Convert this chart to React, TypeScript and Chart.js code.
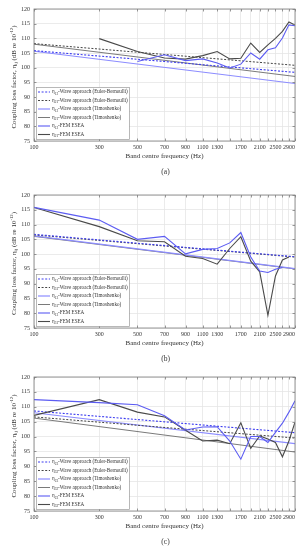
import React, { useEffect, useRef } from "react";
import { Chart, registerables } from "chart.js";

Chart.register(...registerables);

// ---------- data ----------
const FREQS = [100, 300, 500, 700, 900, 1100, 1300, 1500, 1700, 1900, 2100, 2300, 2500, 2700, 2900, 3100];
const WAVE_FREQS = [100, 3100];
const LABELLED_FREQS = [100, 300, 500, 700, 900, 1100, 1300, 1700, 2100, 2500, 2900];
const GRID_FREQS = [100, 300, 500, 700, 900, 1100, 1300, 1500, 1700, 1900, 2100, 2300, 2500, 2700, 2900, 3100];
const AXIS_OFFSET = 100; // axis is logarithmic in (band centre + 100 Hz)
const Y_MIN = 75;
const Y_MAX = 120;
const Y_STEP = 5;

// (a)
const A_WAVE_EB_12 = [105.8, 98.4];
const A_WAVE_EB_21 = [108.2, 100.8];
const A_WAVE_TIM_12 = [105.6, 94.6];
const A_WAVE_TIM_21 = [108.0, 97.0];
const A_FEM_12 = [null, null, 102.1, 104.4, 102.4, 103.0, 101.6, 99.9, 101.2, 105.0, 102.9, 106.1, 106.8, 110.1, 114.6, 114.3];
const A_FEM_21 = [null, 109.9, 105.5, 103.3, 102.9, 104.1, 105.5, 103.0, 103.2, 108.4, 105.2, 107.8, 110.0, 112.4, 115.6, 114.5];

// (b)
const B_WAVE_EB_13 = [106.7, 99.1];
const B_WAVE_EB_31 = [106.5, 99.0];
const B_WAVE_TIM_13 = [106.2, 95.1];
const B_WAVE_TIM_31 = [106.0, 95.0];
const B_FEM_13 = [115.8, 111.5, 105.0, 106.0, 100.1, 101.6, 101.9, 103.8, 107.3, 99.0, 94.3, 93.8, 94.9, 95.5, null, null];
const B_FEM_31 = [115.8, 109.3, 104.5, 104.2, 99.3, 98.5, 96.6, 101.9, 105.9, 97.6, 94.0, 79.3, 92.6, 98.0, 99.0, null];

// (c)
const C_WAVE_EB_23 = [108.6, 101.3];
const C_WAVE_EB_32 = [106.6, 99.5];
const C_WAVE_TIM_23 = [108.0, 97.6];
const C_WAVE_TIM_32 = [106.2, 94.8];
const C_FEM_23 = [112.4, 111.4, 110.7, 107.0, 102.2, 103.2, 103.3, 98.5, 92.4, 100.0, 100.0, 98.0, 101.4, 104.5, 108.2, 112.0];
const C_FEM_32 = [107.1, 112.4, 108.2, 106.6, 102.1, 98.5, 98.8, 97.6, 104.6, 96.0, 100.2, 99.2, 98.0, 93.2, 98.5, 104.8];

const CAPTIONS = ["(a)", "(b)", "(c)"];
const SUBSCRIPTS = [["12", "21"], ["13", "31"], ["23", "32"]];
const LEGEND_SUFFIXES = [
  "-Wave approach (Euler-Bernoulli)",
  "-Wave approach (Euler-Bernoulli)",
  "-Wave approach (Timoshenko)",
  "-Wave approach (Timoshenko)",
  "-FEM ESEA",
  "-FEM ESEA",
];
const X_TITLE = "Band centre frequency (Hz)";

// ---------- styles ----------
const FONT = "'Liberation Serif', 'Times New Roman', serif";
const TEXT = "#333333";
const GRID = "#e6e6e6";
const STYLES = [
  { color: "#3c3cf0", width: 1.1, dash: [2, 1.6] },
  { color: "#444444", width: 1.0, dash: [2, 1.6] },
  { color: "#8c8cff", width: 1.2, dash: [] },
  { color: "#7a7a7a", width: 1.0, dash: [] },
  { color: "#5c5cf2", width: 1.1, dash: [] },
  { color: "#4a4a4a", width: 1.1, dash: [] },
];

type Seg = { t: string; s?: "sub" | "sup" };

function segFont(size: number, s?: string) {
  const sz = s ? size * 0.68 : size;
  return `${sz}px ${FONT}`;
}
function richWidth(ctx: CanvasRenderingContext2D, segs: Seg[], size: number) {
  let w = 0;
  for (const sg of segs) {
    ctx.font = segFont(size, sg.s);
    w += ctx.measureText(sg.t).width;
  }
  return w;
}
function drawRich(ctx: CanvasRenderingContext2D, segs: Seg[], x: number, y: number, size: number, align: "left" | "center") {
  let cx = align === "center" ? x - richWidth(ctx, segs, size) / 2 : x;
  ctx.textAlign = "left";
  ctx.textBaseline = "middle";
  ctx.fillStyle = TEXT;
  for (const sg of segs) {
    ctx.font = segFont(size, sg.s);
    const dy = sg.s === "sub" ? size * 0.32 : sg.s === "sup" ? -size * 0.38 : 0;
    ctx.fillText(sg.t, cx, y + dy);
    cx += ctx.measureText(sg.t).width;
  }
}

const PANELS = [
  {
    top: 0, height: 183, plotTop: 9, plotBottom: 141,
    series: [[WAVE_FREQS, A_WAVE_EB_12], [WAVE_FREQS, A_WAVE_EB_21], [WAVE_FREQS, A_WAVE_TIM_12], [WAVE_FREQS, A_WAVE_TIM_21], [FREQS, A_FEM_12], [FREQS, A_FEM_21]],
  },
  {
    top: 183, height: 183, plotTop: 12, plotBottom: 145,
    series: [[WAVE_FREQS, B_WAVE_EB_13], [WAVE_FREQS, B_WAVE_EB_31], [WAVE_FREQS, B_WAVE_TIM_13], [WAVE_FREQS, B_WAVE_TIM_31], [FREQS, B_FEM_13], [FREQS, B_FEM_31]],
  },
  {
    top: 366, height: 184, plotTop: 11, plotBottom: 145,
    series: [[WAVE_FREQS, C_WAVE_EB_23], [WAVE_FREQS, C_WAVE_EB_32], [WAVE_FREQS, C_WAVE_TIM_23], [WAVE_FREQS, C_WAVE_TIM_32], [FREQS, C_FEM_23], [FREQS, C_FEM_32]],
  },
];

function Panel({ idx }: { idx: number }) {
  const ref = useRef<HTMLCanvasElement | null>(null);
  const p = PANELS[idx];
  useEffect(() => {
    const canvas = ref.current;
    if (!canvas) return;
    const subs = SUBSCRIPTS[idx];
    const datasets = p.series.map(([xs, ys], i) => {
      const st = STYLES[i];
      const pts: { x: number; y: number }[] = [];
      (xs as number[]).forEach((f, k) => {
        const v = (ys as (number | null)[])[k];
        if (v !== null && v !== undefined) pts.push({ x: f + AXIS_OFFSET, y: v });
      });
      return {
        label: "η" + subs[i % 2] + LEGEND_SUFFIXES[i],
        data: pts,
        borderColor: st.color,
        backgroundColor: st.color,
        borderWidth: st.width,
        borderDash: st.dash,
        pointRadius: 0,
        tension: 0,
        fill: false,
        order: i >= 4 ? 0 : 1,
      };
    });

    const decor = {
      id: "decor",
      afterDatasetsDraw(chart: any) {
        const { ctx, chartArea: ca, scales } = chart;
        ctx.save();
        // box
        ctx.strokeStyle = "#7d7d7d";
        ctx.lineWidth = 0.8;
        ctx.setLineDash([]);
        ctx.strokeRect(ca.left, ca.top, ca.right - ca.left, ca.bottom - ca.top);
        // inner tick marks
        ctx.beginPath();
        for (const t of scales.x.ticks) {
          const px = Math.round(scales.x.getPixelForValue(t.value)) + 0.5;
          ctx.moveTo(px, ca.bottom); ctx.lineTo(px, ca.bottom - 2.5);
          ctx.moveTo(px, ca.top); ctx.lineTo(px, ca.top + 2.5);
        }
        for (const t of scales.y.ticks) {
          const py = Math.round(scales.y.getPixelForValue(t.value)) + 0.5;
          ctx.moveTo(ca.left, py); ctx.lineTo(ca.left + 2.5, py);
          ctx.moveTo(ca.right, py); ctx.lineTo(ca.right - 2.5, py);
        }
        ctx.stroke();
        // legend
        const lx = ca.left + 2;
        const rowH = 8.5;
        const lh = rowH * 6 + 1;
        const ly = ca.bottom - 2 - lh;
        const lw = 93;
        ctx.fillStyle = "#ffffff";
        ctx.fillRect(lx, ly, lw, lh);
        ctx.strokeStyle = "#9a9a9a";
        ctx.lineWidth = 0.7;
        ctx.strokeRect(lx + 0.5, ly + 0.5, lw, lh);
        datasets.forEach((ds, i) => {
          const yy = ly + 5 + i * rowH;
          ctx.strokeStyle = ds.borderColor;
          ctx.lineWidth = ds.borderWidth;
          ctx.setLineDash(ds.borderDash);
          ctx.beginPath();
          ctx.moveTo(lx + 2, yy);
          ctx.lineTo(lx + 14, yy);
          ctx.stroke();
          ctx.setLineDash([]);
          drawRich(ctx, [{ t: "η" }, { t: subs[i % 2], s: "sub" }, { t: LEGEND_SUFFIXES[i] }], lx + 16, yy, 5.1, "left");
        });
        ctx.restore();
      },
      afterDraw(chart: any) {
        const { ctx, chartArea: ca } = chart;
        ctx.save();
        const cx = (ca.left + ca.right) / 2;
        drawRich(ctx, [{ t: X_TITLE }], cx, ca.bottom + 15, 7, "center");
        drawRich(ctx, [{ t: CAPTIONS[idx] }], cx + 1, ca.bottom + 31, 7.5, "center");
        // y title
        ctx.translate(14, (ca.top + ca.bottom) / 2 + 2);
        ctx.rotate(-Math.PI / 2);
        drawRich(ctx, [{ t: "Coupling loss factor, η" }, { t: "ij", s: "sub" }, { t: " (dB re 10" }, { t: "-12", s: "sup" }, { t: ")" }], 0, 0, 7, "center");
        ctx.restore();
      },
    };

    const chart = new Chart(canvas, {
      type: "line",
      data: { datasets: datasets as any },
      options: {
        animation: false,
        responsive: false,
        devicePixelRatio: 1,
        layout: { padding: { top: p.plotTop, right: 13, left: 0, bottom: 0 } },
        plugins: { legend: { display: false }, tooltip: { enabled: false }, title: { display: false } },
        scales: {
          x: {
            type: "logarithmic",
            min: GRID_FREQS[0] + AXIS_OFFSET,
            max: GRID_FREQS[GRID_FREQS.length - 1] + AXIS_OFFSET,
            afterBuildTicks: (scale: any) => {
              scale.ticks = GRID_FREQS.map((f) => ({ value: f + AXIS_OFFSET }));
            },
            afterFit: (scale: any) => {
              scale.height = p.height - p.plotBottom;
            },
            ticks: {
              autoSkip: false,
              maxRotation: 0,
              minRotation: 0,
              padding: 2.5,
              color: TEXT,
              font: { family: FONT, size: 6 },
              callback: (v: any) => {
                const f = Number(v) - AXIS_OFFSET;
                return LABELLED_FREQS.includes(f) ? String(f) : "";
              },
            },
            grid: { color: GRID, lineWidth: 0.8, drawTicks: false },
            border: { display: false },
          },
          y: {
            type: "linear",
            min: Y_MIN,
            max: Y_MAX,
            afterFit: (scale: any) => {
              scale.width = 34;
            },
            ticks: {
              stepSize: Y_STEP,
              padding: 4,
              color: TEXT,
              font: { family: FONT, size: 6 },
            },
            grid: { color: GRID, lineWidth: 0.8, drawTicks: false },
            border: { display: false },
          },
        },
      },
      plugins: [decor],
    } as any);
    return () => chart.destroy();
  }, []);
  return (
    <div style={{ position: "absolute", left: 0, top: p.top, width: 308, height: p.height }}>
      <canvas ref={ref} width={308} height={p.height} style={{ display: "block", width: 308, height: p.height }} />
    </div>
  );
}

export default function App() {
  return (
    <div style={{ position: "absolute", left: 0, top: 0, width: 308, height: 550, background: "#ffffff", overflow: "hidden" }}>
      <Panel idx={0} />
      <Panel idx={1} />
      <Panel idx={2} />
    </div>
  );
}
